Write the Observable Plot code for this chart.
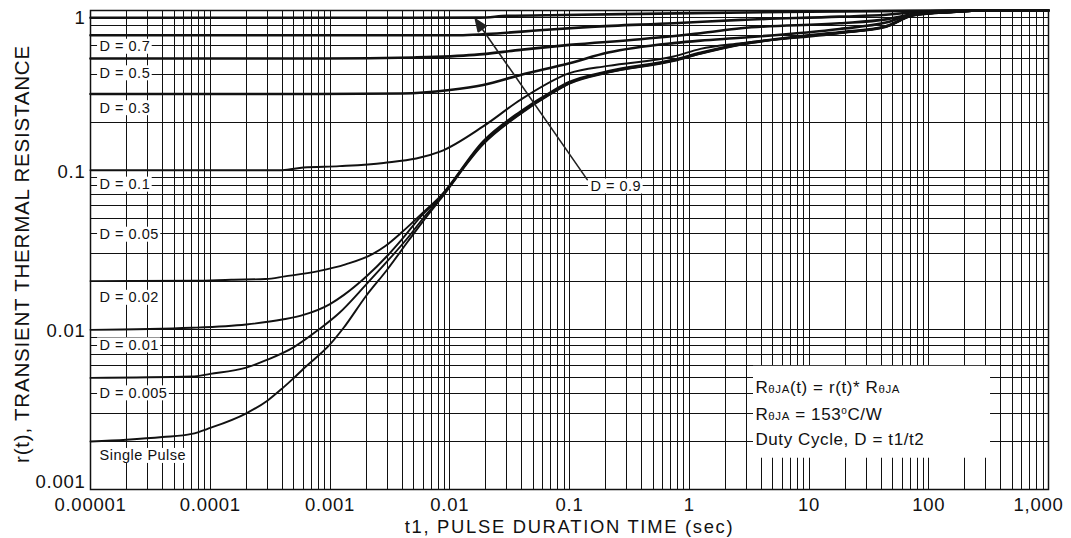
<!DOCTYPE html>
<html>
<head>
<meta charset="utf-8">
<script src="https://cdn.jsdelivr.net/npm/d3@7"></script>
<script src="https://cdn.jsdelivr.net/npm/@observablehq/plot@0.6"></script>
<style>
  body { margin: 0; background: #fff; }
  g[font-size="18.5"] text { letter-spacing: 0.75px; }
  g[font-size="18.4"] text { letter-spacing: 1.7px; }
  g[font-size="20.5"] text { letter-spacing: 0.8px; }
  g[font-size="14.5"] text { letter-spacing: 0.5px; }
  g[font-size="17"] text { letter-spacing: 0.6px; }
</style>
</head>
<body>
<div id="chart"></div>
<script>
// ---------- data: [t1 (sec), r(t)] ----------
const curveD09 = [[1e-5,0.90],[0.005,0.90],[0.018,0.902],[0.03,0.925],[0.09,0.937],[0.8,0.96],[10,0.983],[70,0.995],[150,1],[1000,1]];
const curveD07 = [[1e-5,0.70],[0.012,0.70],[0.02,0.712],[0.04,0.737],[0.06,0.755],[0.15,0.79],[0.74,0.832],[2.7,0.873],[18,0.915],[44,0.94],[75,0.975],[160,1],[1000,1]];
const curveD05 = [[1e-5,0.50],[9e-4,0.50],[0.005,0.508],[0.016,0.527],[0.039,0.567],[0.1,0.609],[0.39,0.661],[1.24,0.72],[2.7,0.774],[18,0.832],[44,0.88],[75,0.95],[160,0.99],[250,1],[1000,1]];
const curveD03 = [[1e-5,0.30],[3.5e-4,0.30],[0.004,0.302],[0.01,0.318],[0.019,0.342],[0.039,0.395],[0.1,0.468],[0.21,0.545],[0.74,0.625],[1.24,0.648],[2.7,0.675],[18,0.766],[44,0.84],[75,0.95],[160,0.985],[250,1],[1000,1]];
const curveD01 = [[1e-5,0.100],[4e-4,0.100],[6e-4,0.104],[0.0012,0.106],[0.0028,0.111],[0.0084,0.131],[0.019,0.188],[0.039,0.276],[0.1,0.405],[0.21,0.45],[0.74,0.515],[1.24,0.575],[2.7,0.624],[18,0.72],[44,0.8],[75,0.94],[160,0.98],[250,1],[1000,1]];
const curveD002 = [[1e-5,0.0202],[7.5e-5,0.0203],[1.5e-4,0.0206],[2.9e-4,0.0208],[4.2e-4,0.0216],[8e-4,0.0233],[1.35e-3,0.0257],[2.3e-3,0.0300],[2.9e-3,0.0335],[4e-3,0.041],[5.7e-3,0.0525],[8.4e-3,0.069],[0.019,0.152],[0.039,0.234],[0.07,0.31],[0.1,0.358],[0.21,0.418],[0.74,0.493],[1.24,0.546],[2.7,0.62],[8.5,0.694],[18,0.733],[44,0.8],[75,0.936],[160,0.978],[300,1],[1000,1]];
const curveD001 = [[1e-5,0.0100],[7e-5,0.0103],[2e-4,0.0108],[4e-4,0.0116],[6e-4,0.0124],[1e-3,0.0145],[1.3e-3,0.0165],[2e-3,0.0215],[3e-3,0.029],[4e-3,0.037],[5.7e-3,0.051],[8.4e-3,0.068],[0.019,0.149],[0.039,0.23],[0.07,0.305],[0.1,0.353],[0.21,0.413],[0.74,0.488],[1.24,0.541],[2.7,0.615],[8.5,0.689],[18,0.728],[44,0.793],[75,0.934],[160,0.977],[300,1],[1000,1]];
const curveD0005 = [[1e-5,0.0050],[7e-5,0.0051],[1e-4,0.0053],[2e-4,0.0058],[3e-4,0.0065],[5e-4,0.0078],[8e-4,0.0100],[1.2e-3,0.0128],[2e-3,0.0192],[3e-3,0.0268],[4.5e-3,0.038],[6e-3,0.05],[8.4e-3,0.067],[0.019,0.147],[0.039,0.227],[0.07,0.302],[0.1,0.35],[0.21,0.41],[0.74,0.485],[1.24,0.538],[2.7,0.612],[8.5,0.686],[18,0.725],[44,0.79],[75,0.932],[160,0.976],[300,1],[1000,1]];
const curveSingle = [[1e-5,0.0020],[2e-5,0.00205],[4e-5,0.00213],[7e-5,0.00223],[1e-4,0.00243],[2e-4,0.0030],[3e-4,0.0036],[4e-4,0.0043],[5e-4,0.0050],[6e-4,0.0057],[1e-3,0.0081],[1.3e-3,0.0103],[2e-3,0.0163],[3e-3,0.0238],[4.5e-3,0.036],[6e-3,0.048],[8.4e-3,0.066],[0.019,0.145],[0.039,0.225],[0.07,0.300],[0.1,0.348],[0.21,0.408],[0.74,0.482],[1.24,0.535],[2.7,0.61],[8.5,0.683],[18,0.722],[44,0.788],[75,0.93],[160,0.975],[300,1],[1000,1]];

// curve labels
const labelText = ["D = 0.7","D = 0.5","D = 0.3","D = 0.1","D = 0.05","D = 0.02","D = 0.01","D = 0.005","Single Pulse","D = 0.9"];
const labelT    = [1.19e-5,1.19e-5,1.19e-5,1.19e-5,1.19e-5,1.19e-5,1.19e-5,1.19e-5,1.19e-5,0.1498];
const labelR    = [0.594,0.405,0.245,0.0813,0.0395,0.0159,0.0080,0.00401,0.001626,0.0792];

// arrow from the "D = 0.9" label to its curve
const arrowFrom = [0.1406, 0.0873];
const arrowTo   = [0.0164, 0.881];

// annotation
const noteLines = ["R_{θJA}(t) = r(t)* R_{θJA}", "R_{θJA} = 153^{o}C/W", "Duty Cycle, D = t1/t2"];
const noteT = [3.57, 3.57, 3.57];
const noteR = [0.00437, 0.002965, 0.00207];
const noteBox = {t1: 3.44, t2: 328, r1: 0.00591, r2: 0.00157};

// axes
const xTicks = [1e-5,1e-4,1e-3,1e-2,1e-1,1,10,100,1000];
const xTickLabels = ["0.00001","0.0001","0.001","0.01","0.1","1","10","100","1,000"];
const yTicks = [0.001,0.01,0.1,1];
const yTickLabels = ["0.001","0.01","0.1","1"];
const xTitle = "t1, PULSE DURATION TIME (sec)";
const yTitle = "r(t), TRANSIENT THERMAL RESISTANCE";

// grid lines (1..9 per decade)
const mult = [1,2,3,4,5,6,7,8,9];
const xGrid = xTicks.slice(0, -1).flatMap(d => mult.map(k => k * d)).concat([1000]);
const yGrid = yTicks.slice(0, -1).flatMap(d => mult.map(k => k * d)).concat([1]);

const toRows = (pts) => pts.map(([t, r]) => ({t, r}));
const thick = [curveD09, curveD07, curveD05, curveD03];
const medium = [curveD01];
const thin = [curveD002, curveD001, curveD0005, curveSingle];

const labels = labelText.map((s, i) => ({s, t: labelT[i], r: labelR[i]}));
const notes = noteLines.map((s, i) => ({s, t: noteT[i], r: noteR[i]}));
const fmtX = d => xTickLabels[xTicks.indexOf(d)];
const fmtY = d => yTickLabels[yTicks.indexOf(d)];

const ink = "#111";
const marks = [
  Plot.ruleX(xGrid, {stroke: "#111", strokeWidth: 1, shapeRendering: "crispEdges"}),
  Plot.ruleY(yGrid, {stroke: "#111", strokeWidth: 1, shapeRendering: "crispEdges"}),
  ...thin.map(c => Plot.line(toRows(c), {x: "t", y: "r", stroke: ink, strokeWidth: 1.9, curve: "monotone-x"})),
  ...medium.map(c => Plot.line(toRows(c), {x: "t", y: "r", stroke: ink, strokeWidth: 2, curve: "monotone-x"})),
  ...thick.map(c => Plot.line(toRows(c), {x: "t", y: "r", stroke: ink, strokeWidth: 2.6, curve: "monotone-x"})),
  Plot.rect([noteBox], {x1: "t1", x2: "t2", y1: "r1", y2: "r2", fill: "white"}),
  Plot.frame({stroke: ink, strokeWidth: 1.5}),
  Plot.axisX(xTicks.slice(0, -1), {tickSize: 0, tickPadding: 8, tickFormat: fmtX, fontSize: 18.5, label: null, fill: ink}),
  Plot.axisX([1000], {tickSize: 0, tickPadding: 8, tickFormat: fmtX, fontSize: 18.5, label: null, dx: -10, fill: ink}),
  Plot.axisY([0.01, 0.1], {tickSize: 0, tickPadding: 5, tickFormat: fmtY, fontSize: 18.5, label: null, dy: 1.5, fill: ink}),
  Plot.axisY([1], {tickSize: 0, tickPadding: 5, tickFormat: fmtY, fontSize: 18.5, label: null, dy: 7.5, fill: ink}),
  Plot.axisY([0.001], {tickSize: 0, tickPadding: 5, tickFormat: fmtY, fontSize: 18.5, label: null, dy: -7, fill: ink}),
  Plot.text([xTitle], {text: d => d, frameAnchor: "bottom", dy: 37.4, fontSize: 18.4, lineAnchor: "middle", fill: ink}),
  Plot.text([yTitle], {text: d => d, frameAnchor: "left", rotate: -90, dx: -68, dy: 4, fontSize: 20.5, lineAnchor: "middle", textAnchor: "middle", fill: ink}),
  Plot.text(labels, {x: "t", y: "r", text: "s", textAnchor: "start", lineAnchor: "middle", fontSize: 14.5, fill: ink}),
  Plot.arrow([{x1: arrowFrom[0], y1: arrowFrom[1], x2: arrowTo[0], y2: arrowTo[1]}], {x1: "x1", y1: "y1", x2: "x2", y2: "y2", stroke: "#222", strokeWidth: 1.6, headLength: 12, headAngle: 45}),
  Plot.text(notes, {x: "t", y: "r", text: "s", textAnchor: "start", lineAnchor: "middle", fontSize: 17, fill: ink})
];

const plot = Plot.plot({
  width: 1071,
  height: 538,
  marginLeft: 90,
  marginRight: 23,
  marginTop: 10,
  marginBottom: 49,
  x: {type: "log", domain: [1e-5, 1000]},
  y: {type: "log", domain: [0.001, 1]},
  style: {fontFamily: "'Liberation Sans', Arial, sans-serif", background: "white", color: ink},
  marks
});
document.getElementById("chart").append(plot);

// white boxes behind curve labels
const NS = "http://www.w3.org/2000/svg";
plot.querySelectorAll('g[font-size="14.5"] text').forEach(t => {
  const b = t.getBBox();
  const r = document.createElementNS(NS, "rect");
  r.setAttribute("x", b.x - 2.5);
  r.setAttribute("y", b.y + 0.5);
  r.setAttribute("width", b.width + 4);
  r.setAttribute("height", b.height - 1);
  r.setAttribute("fill", "white");
  r.setAttribute("stroke", "none");
  if (t.getAttribute("transform")) r.setAttribute("transform", t.getAttribute("transform"));
  t.parentNode.insertBefore(r, t);
});

// subscripts / superscripts in annotation text
plot.querySelectorAll('g[font-size="17"] text').forEach(t => {
  const src = t.textContent;
  const parts = src.split(/(_\{[^}]*\}|\^\{[^}]*\})/).filter(p => p.length);
  t.textContent = "";
  let shift = 0;
  parts.forEach(p => {
    const ts = document.createElementNS(NS, "tspan");
    let target = 0;
    if (p.startsWith("_{")) { ts.textContent = p.slice(2, -1); ts.setAttribute("font-size", "11.5"); target = 0.5; }
    else if (p.startsWith("^{")) { ts.textContent = p.slice(2, -1); ts.setAttribute("font-size", "10"); target = -6; }
    else { ts.textContent = p; }
    if (target - shift !== 0) ts.setAttribute("dy", target - shift);
    shift = target;
    t.appendChild(ts);
  });
});

// filled arrow head
plot.querySelectorAll('g[aria-label="arrow"] path').forEach(p => {
  p.setAttribute("d", p.getAttribute("d") + "Z");
  p.setAttribute("fill", "#222");
  p.setAttribute("stroke-linejoin", "miter");
});
</script>
</body>
</html>
